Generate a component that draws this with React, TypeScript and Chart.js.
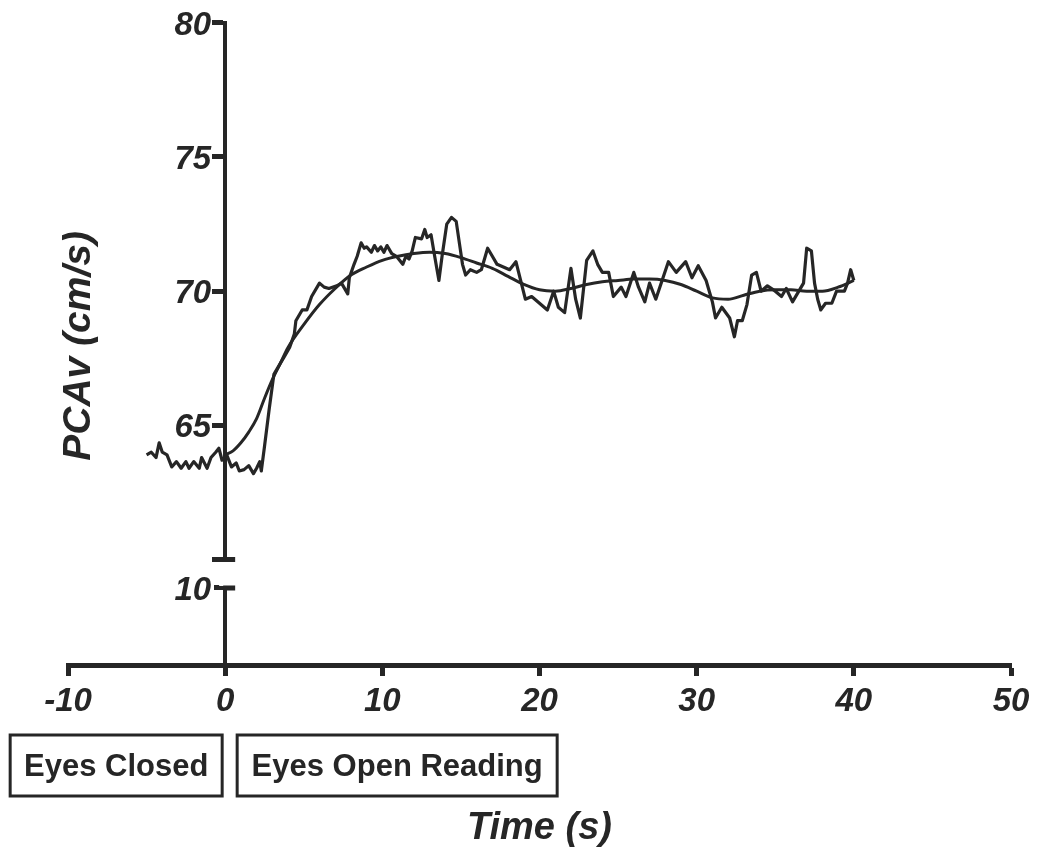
import React, { useEffect, useRef } from 'react';
import { Chart, registerables } from 'chart.js';

Chart.register(...registerables);

// ---- data ----
const traceTime = [
  -5.0, -4.7, -4.4, -4.2, -4.0, -3.7, -3.4, -3.1, -2.8, -2.5, -2.3, -2.0, -1.65, -1.5, -1.15, -0.9, -0.6, -0.4, -0.2,
  0.1, 0.4, 0.7, 0.9, 1.2, 1.5, 1.8, 2.0, 2.2, 2.3, 2.5, 2.8, 3.1, 3.5, 3.8, 4.1, 4.4, 4.5, 4.9, 5.2, 5.5,
  6.0, 6.3, 6.6, 7.1, 7.4, 7.8, 7.9, 8.2, 8.4, 8.65, 8.85, 9.0, 9.3, 9.5, 9.7, 9.9, 10.1, 10.3, 10.6, 10.9,
  11.3, 11.5, 11.7, 11.9, 12.1, 12.5, 12.7, 12.85, 13.1, 13.3, 13.6, 13.8, 14.1, 14.4, 14.7, 14.9, 15.1, 15.3, 15.6, 16.0,
  16.3, 16.7, 17.0, 17.3, 17.7, 18.1, 18.5, 18.8, 19.1, 19.5, 20.0, 20.5, 20.9, 21.2, 21.6, 22.0, 22.3, 22.6, 23.0, 23.4,
  23.7, 24.0, 24.4, 24.7, 25.2, 25.5, 26.0, 26.3, 26.7, 27.0, 27.4, 27.8, 28.2, 28.7, 29.3, 29.7, 30.1, 30.6, 31.0, 31.2,
  31.6, 32.1, 32.4, 32.6, 32.9, 33.2, 33.5, 33.8, 34.1, 34.5, 35.0, 35.4, 35.7, 36.1, 36.5, 36.8, 37.0, 37.3, 37.5, 37.7,
  37.9, 38.2, 38.6, 38.9, 39.4, 39.6, 39.8, 40.0,
];
const traceValue = [
  63.9, 64.0, 63.8, 64.35, 64.0, 63.9, 63.45, 63.65, 63.4, 63.65, 63.4, 63.65, 63.4, 63.8, 63.4, 63.8, 64.0, 64.15, 63.7,
  63.9, 63.45, 63.6, 63.3, 63.35, 63.5, 63.2, 63.4, 63.65, 63.3, 64.2, 65.6, 66.9, 67.3, 67.6, 67.9, 68.4, 68.9, 69.3, 69.3, 69.8,
  70.3, 70.15, 70.1, 70.2, 70.3, 69.9, 70.5, 71.0, 71.3, 71.8, 71.6, 71.65, 71.45, 71.7, 71.5, 71.65, 71.45, 71.7, 71.4, 71.3,
  71.0, 71.3, 71.2, 71.5, 72.0, 71.95, 72.3, 72.0, 72.1, 71.4, 70.4, 71.3, 72.5, 72.75, 72.6, 71.8, 71.0, 70.6, 70.8, 70.7,
  70.8, 71.6, 71.3, 71.0, 70.9, 70.8, 71.1, 70.4, 69.7, 69.8, 69.55, 69.3, 70.0, 69.4, 69.2, 70.85, 69.7, 69.0, 71.15, 71.5,
  71.0, 70.7, 70.7, 69.8, 70.15, 69.8, 70.7, 70.15, 69.6, 70.3, 69.7, 70.4, 71.1, 70.7, 71.1, 70.5, 70.95, 70.4, 69.6, 69.0,
  69.4, 69.0, 68.3, 68.9, 68.9, 69.5, 70.6, 70.7, 70.0, 70.2, 70.0, 69.8, 70.1, 69.6, 70.0, 70.3, 71.6, 71.5, 70.3, 69.7,
  69.3, 69.55, 69.55, 70.0, 70.0, 70.3, 70.8, 70.4,
];
const fitTime = [0, 0.5, 1, 1.5, 2, 2.5, 3, 3.5, 4, 5, 6, 7, 8, 9, 10, 11, 12, 13, 14, 15, 16, 17, 18, 19, 20,
  21, 22, 23, 24, 25, 26, 27, 28, 29, 30, 31, 32, 33, 34, 35, 36, 37, 38, 39, 40];
const fitValue = [63.9, 64.05, 64.35, 64.75, 65.25, 66.0, 66.7, 67.3, 67.9, 68.75, 69.5, 70.1, 70.6, 70.9, 71.15,
  71.3, 71.4, 71.45, 71.4, 71.25, 71.05, 70.85, 70.55, 70.25, 70.05, 70.0, 70.1, 70.25, 70.35, 70.4, 70.45, 70.45,
  70.4, 70.25, 70.0, 69.75, 69.7, 69.85, 70.0, 70.05, 70.05, 70.0, 70.0, 70.15, 70.4];

const xTickValues = [-10, 0, 10, 20, 30, 40, 50];
const upperTickValues = [60, 65, 70, 75, 80];
const lowerTickValues = [10];
const upperBreakValue = 60;
const lowerBreakValue = 10;
const xTitle = 'Time (s)';
const yTitle = 'PCAv (cm/s)';
const phaseLabels = ['Eyes Closed', 'Eyes Open Reading'];

const INK = '#262626';
const FAMILY = '"Liberation Sans", Arial, Helvetica, sans-serif';

export default function App() {
  const canvasRef = useRef<HTMLCanvasElement>(null);

  useEffect(() => {
    if (!canvasRef.current) return;

    // Chart.js does not offset tick labels of axes placed at a value position; move them left of the tick marks.
    const labelShift = {
      id: 'labelShift',
      beforeDraw(chart: any) {
        ['y', 'yLow'].forEach((id) => {
          const s = chart.scales[id];
          const items = s.getLabelItems(chart.chartArea);
          if (!items._shifted) {
            items.forEach((it: any) => { it.options.translation[0] -= 14; });
            items._shifted = true;
          }
        });
      },
    };

    const breakPlugin = {
      id: 'axisBreak',
      afterDraw(chart: any) {
        const { ctx, scales, chartArea } = chart;
        const x0 = scales.x.getPixelForValue(0);
        const yA = scales.y.getPixelForValue(upperBreakValue);
        const yB = scales.yLow.getPixelForValue(lowerBreakValue);
        ctx.save();
        // gap in the y axis
        ctx.fillStyle = '#ffffff';
        ctx.fillRect(x0 - 6, yA + 2, 12, yB - yA - 4);
        // caps
        ctx.strokeStyle = INK;
        ctx.lineWidth = 5;
        ctx.lineCap = 'butt';
        ctx.beginPath();
        ctx.moveTo(x0 - 9, yA);
        ctx.lineTo(x0 + 10, yA);
        ctx.moveTo(x0 - 2, yB);
        ctx.lineTo(x0 + 10, yB);
        ctx.stroke();

        // y title
        ctx.fillStyle = INK;
        ctx.font = `italic bold 39px ${FAMILY}`;
        ctx.textAlign = 'center';
        ctx.textBaseline = 'middle';
        ctx.translate(79, (chartArea.top + chartArea.bottom) / 2 + 2);
        ctx.rotate(-Math.PI / 2);
        ctx.fillText(yTitle, 0, 0);
        ctx.setTransform(1, 0, 0, 1, 0, 0);

        // phase boxes
        const top = chartArea.bottom + 70;
        const h = 61;
        const boxes = [
          [x0 - 215, x0 - 3],
          [x0 + 12, x0 + 332],
        ];
        ctx.lineWidth = 3;
        ctx.font = `bold 31px ${FAMILY}`;
        ctx.textAlign = 'center';
        ctx.textBaseline = 'middle';
        boxes.forEach(([l, r], i) => {
          ctx.strokeRect(l, top, r - l, h);
          ctx.fillText(phaseLabels[i], (l + r) / 2, top + h / 2 + 2);
        });
        ctx.restore();
      },
    };

    const tickFont = { family: FAMILY, size: 33, weight: 'bold' as const, style: 'italic' as const };

    const chart = new Chart(canvasRef.current, {
      type: 'line',
      data: {
        datasets: [
          {
            label: 'PCAv',
            data: traceTime.map((t, i) => ({ x: t, y: traceValue[i] })),
            borderColor: INK,
            borderWidth: 3.2,
            pointRadius: 0,
            tension: 0,
            borderJoinStyle: 'round',
            fill: false,
          },
          {
            label: 'Fit',
            data: fitTime.map((t, i) => ({ x: t, y: fitValue[i] })),
            borderColor: INK,
            borderWidth: 3,
            pointRadius: 0,
            tension: 0.4,
            cubicInterpolationMode: 'monotone',
            fill: false,
          },
        ],
      },
      options: {
        animation: false,
        responsive: false,
        layout: { padding: { top: 22, left: 68, right: 27, bottom: 0 } },
        plugins: { legend: { display: false }, tooltip: { enabled: false } },
        scales: {
          x: {
            type: 'linear',
            position: 'bottom',
            min: -10,
            max: 50,
            afterBuildTicks: (s: any) => { s.ticks = xTickValues.map((v) => ({ value: v })); },
            afterFit: (s: any) => { s.height = 186; },
            border: { display: true, color: INK, width: 5 },
            grid: { drawOnChartArea: false, drawTicks: true, tickLength: 11, tickWidth: 5, tickColor: INK, color: INK },
            ticks: { font: tickFont, color: INK, padding: 6, maxRotation: 0, autoSkip: false },
            title: {
              display: true,
              text: xTitle,
              color: INK,
              font: { family: FAMILY, size: 38, weight: 'bold', style: 'italic' },
              padding: { top: 0, bottom: 0 },
            },
          },
          y: {
            type: 'linear',
            position: { x: 0 },
            min: 56.07,
            max: 80,
            afterBuildTicks: (s: any) => { s.ticks = upperTickValues.map((v) => ({ value: v })); },
            border: { display: true, color: INK, width: 4 },
            grid: { drawOnChartArea: false, drawTicks: true, tickLength: 11, tickWidth: 5, tickColor: INK, color: INK },
            ticks: {
              font: tickFont,
              color: INK,
              padding: 3,
              labelOffset: 3,
              callback: (v: any) => (v === upperBreakValue ? '' : String(v)),
            },
          },
          yLow: {
            type: 'linear',
            position: { x: 0 },
            min: 7.13,
            max: 31.06,
            afterBuildTicks: (s: any) => { s.ticks = lowerTickValues.map((v) => ({ value: v })); },
            border: { display: false },
            grid: { drawOnChartArea: false, drawTicks: true, tickLength: 11, tickWidth: 5, tickColor: INK, color: INK },
            ticks: { font: tickFont, color: INK, padding: 3, labelOffset: 3, callback: (v: any) => String(v) },
          },
        },
      },
      plugins: [labelShift, breakPlugin],
    } as any);

    return () => chart.destroy();
  }, []);

  return (
    <div style={{ position: 'absolute', left: 0, top: 0, width: 1038, height: 851, background: '#fff' }}>
      <canvas ref={canvasRef} width={1038} height={851} style={{ display: 'block' }} />
    </div>
  );
}
